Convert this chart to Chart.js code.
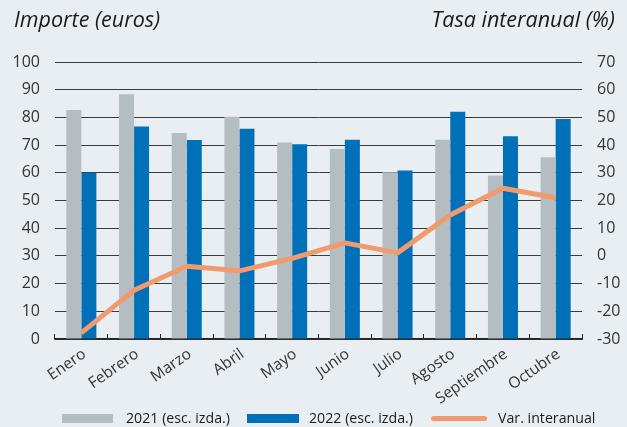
<!DOCTYPE html>
<html>
<head>
<meta charset="utf-8">
<script src="https://cdn.jsdelivr.net/npm/chart.js@4.4.1/dist/chart.umd.min.js"></script>
<style>
    html, body { margin: 0; padding: 0; background: #e9eef2; }
    #wrap { position: relative; width: 627px; height: 427px; overflow: hidden; font-family: "Open Sans", sans-serif; }
    #grafico { position: absolute; left: 0; top: 0; }
    .titulo { position: absolute; top: 4px; font-style: italic; font-size: 21.5px; color: #1a1a1a; white-space: nowrap; }
    .leyenda { position: absolute; top: 408px; height: 18px; display: flex; align-items: center; font-size: 14.2px; color: #1a1a1a; white-space: nowrap; }
    .caja { position: absolute; }
</style>
</head>
<body>
<div id="wrap">
    <canvas id="grafico" width="627" height="427"></canvas>
    <div class="titulo" style="left: 14px;">Importe (euros)</div>
    <div class="titulo" style="right: 12px;">Tasa interanual (%)</div>

    <div class="caja" style="left: 62px; top: 414px; width: 51px; height: 9px; background: #b4bec2;"></div>
    <div class="leyenda" style="left: 126px;">2021 (esc. izda.)</div>
    <div class="caja" style="left: 247px; top: 414px; width: 52px; height: 9px; background: #0070b8;"></div>
    <div class="leyenda" style="left: 309px;">2022 (esc. izda.)</div>
    <div class="caja" style="left: 431px; top: 416px; width: 56px; height: 5px; border-radius: 3px; background: #f19a6e;"></div>
    <div class="leyenda" style="left: 498px;">Var. interanual</div>
</div>
<script>
    "use strict";

    // datos
    const meses = ['Enero', 'Febrero', 'Marzo', 'Abril', 'Mayo', 'Junio', 'Julio', 'Agosto', 'Septiembre', 'Octubre'];
    const importe2021 = [82.7, 88.4, 74.4, 80.2, 70.9, 68.6, 60.2, 71.9, 59.0, 65.6];
    const importe2022 = [60.0, 76.7, 71.8, 75.9, 70.3, 71.9, 60.8, 82.0, 73.2, 79.4];
    const varInteranual = [-27.8, -12.4, -3.7, -5.4, -0.9, 4.7, 1.1, 14.8, 24.4, 21.0];

    // escalas
    const escIzda = { min: 0, max: 100, paso: 10 };
    const escDcha = { min: -30, max: 70, paso: 10 };

    const GRIS = '#b4bec2';
    const AZUL = '#0070b8';
    const NARANJA = '#f19a6e';
    const FUENTE = '"Open Sans", sans-serif';

    var ctx = document.getElementById('grafico').getContext('2d');

    var grafico = new Chart(ctx, {
        type: 'bar',
        data: {
            labels: meses,
            datasets: [{
                label: '2021 (esc. izda.)',
                data: importe2021,
                backgroundColor: GRIS,
                yAxisID: 'y',
                order: 2,
                categoryPercentage: 0.57,
                barPercentage: 1.0
            }, {
                label: '2022 (esc. izda.)',
                data: importe2022,
                backgroundColor: AZUL,
                yAxisID: 'y',
                order: 2,
                categoryPercentage: 0.57,
                barPercentage: 1.0
            }, {
                type: 'line',
                label: 'Var. interanual',
                data: varInteranual,
                borderColor: NARANJA,
                backgroundColor: NARANJA,
                borderWidth: 5,
                pointRadius: 0,
                tension: 0,
                borderJoinStyle: 'round',
                yAxisID: 'y1',
                order: 1
            }]
        },
        options: {
            responsive: false,
            animation: false,
            layout: { padding: { top: 62, left: 0, right: 0, bottom: 0 } },
            plugins: {
                legend: { display: false },
                tooltip: { enabled: false }
            },
            scales: {
                x: {
                    offset: true,
                    afterFit: function (s) { s.height = 88; },
                    grid: {
                        offset: true,
                        drawOnChartArea: false,
                        tickLength: -5,
                        color: '#222',
                        lineWidth: 1
                    },
                    border: { display: true, color: '#222', width: 1.5 },
                    ticks: {
                        minRotation: 35,
                        maxRotation: 35,
                        padding: 11,
                        labelOffset: 3,
                        autoSkip: false,
                        color: '#333',
                        font: { family: FUENTE, size: 15.5 }
                    }
                },
                y: {
                    position: 'left',
                    min: escIzda.min,
                    max: escIzda.max,
                    afterFit: function (s) { s.width = 55; },
                    grid: { color: '#3a3a3a', lineWidth: 1, drawTicks: false },
                    border: { display: false },
                    ticks: {
                        stepSize: escIzda.paso,
                        padding: 15,
                        color: '#333',
                        font: { family: FUENTE, size: 16 }
                    }
                },
                y1: {
                    position: 'right',
                    min: escDcha.min,
                    max: escDcha.max,
                    afterFit: function (s) { s.width = 45; },
                    grid: { drawOnChartArea: false, drawTicks: false },
                    border: { display: false },
                    ticks: {
                        stepSize: escDcha.paso,
                        padding: 15,
                        color: '#333',
                        font: { family: FUENTE, size: 16 }
                    }
                }
            }
        }
    });
</script>
</body>
</html>
